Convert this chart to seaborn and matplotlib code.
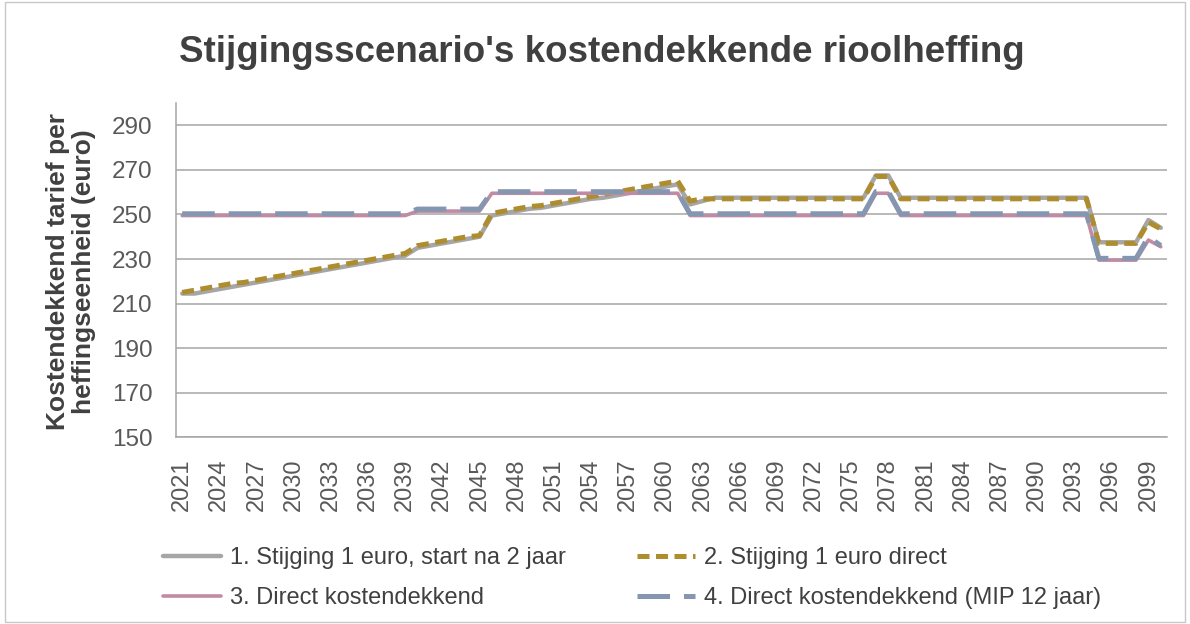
import matplotlib
matplotlib.use("Agg")
import matplotlib.pyplot as plt
import matplotlib.patches as patches
import seaborn as sns
import pandas as pd
import numpy as np

# categories
years = list(range(2021, 2101))

series_names = [
    "1. Stijging 1 euro, start na 2 jaar",
    "2. Stijging 1 euro direct",
    "3. Direct kostendekkend",
    "4. Direct kostendekkend (MIP 12 jaar)",
]

stijging_na_2 = [
    214.5, 214.5, 215.5, 216.5, 217.5, 218.5, 219.5, 220.5, 221.5, 222.5,
    223.5, 224.5, 225.5, 226.5, 227.5, 228.5, 229.5, 230.5, 231.5, 235,
    236, 237, 238, 239, 240, 249.5, 250.5, 251.5, 252.5, 253,
    254, 255, 256, 257, 257.5, 258.5, 259.5, 260.5, 261.5, 262.5,
    263.5, 254.5, 256, 257.5, 257.5, 257.5, 257.5, 257.5, 257.5, 257.5,
    257.5, 257.5, 257.5, 257.5, 257.5, 257.5, 267.5, 267.5, 257.5, 257.5,
    257.5, 257.5, 257.5, 257.5, 257.5, 257.5, 257.5, 257.5, 257.5, 257.5,
    257.5, 257.5, 257.5, 257.5, 237.5, 237.5, 237.5, 237.5, 247.5, 244,
]

stijging_direct = [
    215, 216, 217, 218, 219, 219.5, 220.5, 221.5, 222.5, 223.5,
    224.5, 225.5, 226.5, 227.5, 228.5, 229.5, 230.5, 231.5, 232.5, 236,
    237, 238, 239, 240, 240.5, 250.5, 251.5, 252.5, 253.5, 254,
    255, 256, 257, 258, 259, 260, 261, 262, 263, 264,
    265, 256, 257, 257, 257, 257, 257, 257, 257, 257,
    257, 257, 257, 257, 257, 257, 267, 267, 257, 257,
    257, 257, 257, 257, 257, 257, 257, 257, 257, 257,
    257, 257, 257, 257, 237, 237, 237, 237, 246.5, 243.5,
]

direct_kd = [
    249.5, 249.5, 249.5, 249.5, 249.5, 249.5, 249.5, 249.5, 249.5, 249.5,
    249.5, 249.5, 249.5, 249.5, 249.5, 249.5, 249.5, 249.5, 249.5, 251.5,
    251.5, 251.5, 251.5, 251.5, 251.5, 259.5, 259.5, 259.5, 259.5, 259.5,
    259.5, 259.5, 259.5, 259.5, 259.5, 259.5, 259.5, 259.5, 259.5, 259.5,
    259.5, 249.5, 249.5, 249.5, 249.5, 249.5, 249.5, 249.5, 249.5, 249.5,
    249.5, 249.5, 249.5, 249.5, 249.5, 249.5, 259.5, 259.5, 249.5, 249.5,
    249.5, 249.5, 249.5, 249.5, 249.5, 249.5, 249.5, 249.5, 249.5, 249.5,
    249.5, 249.5, 249.5, 249.5, 229.5, 229.5, 229.5, 229.5, 238.5, 235.5,
]

direct_kd_mip = [
    250.3, 250.3, 250.3, 250.3, 250.3, 250.3, 250.3, 250.3, 250.3, 250.3,
    250.3, 250.3, 250.3, 250.3, 250.3, 250.3, 250.3, 250.3, 250.3, 252.4,
    252.4, 252.4, 252.4, 252.4, 252.4, 260.2, 260.2, 260.2, 260.2, 260.2,
    260.2, 260.2, 260.2, 260.2, 260.2, 260.2, 260.2, 260.2, 260.2, 260.2,
    260.2, 250.3, 250.3, 250.3, 250.3, 250.3, 250.3, 250.3, 250.3, 250.3,
    250.3, 250.3, 250.3, 250.3, 250.3, 250.3, 260.3, 260.3, 250.3, 250.3,
    250.3, 250.3, 250.3, 250.3, 250.3, 250.3, 250.3, 250.3, 250.3, 250.3,
    250.3, 250.3, 250.3, 250.3, 230.3, 230.3, 230.3, 230.3, 240, 236,
]

df = pd.DataFrame({
    "jaar": years,
    series_names[0]: stijging_na_2,
    series_names[1]: stijging_direct,
    series_names[2]: direct_kd,
    series_names[3]: direct_kd_mip,
})

colors = ["#A6A6A6", "#AE8D2E", "#C28BA5", "#8496B0"]
widths = [3.2, 3.6, 2.6, 3.6]
styles = ["-", (0, (2.4, 1.3)), "-", (0, (6.5, 2.8))]

sns.set_style("white")
plt.rcParams['font.family'] = ['Liberation Sans', 'DejaVu Sans']
text_c = "#404040"

fig = plt.figure(figsize=(11.9, 6.24), dpi=100)
ax = fig.add_axes([176 / 1190, 1 - 437.3 / 624, (1167 - 176) / 1190, (437.3 - 103) / 624])

for i, name in enumerate(series_names):
    sns.lineplot(data=df, x="jaar", y=name, ax=ax, color=colors[i], lw=widths[i],
                 linestyle=styles[i], label=name, zorder=3 + i)
    ax.lines[-1].set_dash_capstyle("butt")

ax.set_xlim(2020.5, 2100.5)
ax.set_ylim(150, 300)
ax.set_yticks(range(150, 300, 20))
ax.set_xticks(years[::3])
ax.set_xticklabels([str(y) for y in years[::3]], rotation=90)
ax.set_xticks(np.arange(2020.5, 2101, 1), minor=True)
ax.tick_params(axis="x", which="major", length=0, pad=15, labelsize=17, labelcolor="#595959")
ax.tick_params(axis="x", which="minor", length=6, width=1, color="#A6A6A6", direction="out")
ax.tick_params(axis="y", length=6, width=1, color="#A6A6A6", direction="out", pad=11,
               labelsize=17.5, labelcolor="#595959")
ax.grid(axis="y", color="#A6A6A6", lw=1.1)
ax.set_axisbelow(True)
for s in ["top", "right"]:
    ax.spines[s].set_visible(False)
for s in ["left", "bottom"]:
    ax.spines[s].set_color("#A6A6A6")
    ax.spines[s].set_linewidth(1.1)
ax.set_xlabel("")
ax.set_ylabel("")

fig.text(71 / 1190, 1 - 272 / 624, "Kostendekkend tarief per\nheffingseenheid (euro)",
         rotation=90, ha="center", va="center", fontsize=19, fontweight="bold",
         color=text_c, linespacing=1.1)
fig.text(602 / 1190, 1 - 52 / 624, "Stijgingsscenario's kostendekkende rioolheffing",
         ha="center", va="center", fontsize=26.5, fontweight="bold", color=text_c)

handles, labels = ax.get_legend_handles_labels()
ax.get_legend().remove()
order = [0, 2, 1, 3]
leg = fig.legend([handles[k] for k in order], [labels[k] for k in order],
                 loc="center", bbox_to_anchor=(632 / 1190, 1 - 578 / 624), ncol=2,
                 frameon=False, fontsize=17, handlelength=2.45, handletextpad=0.4,
                 columnspacing=3.0, labelspacing=0.75)
for t in leg.get_texts():
    t.set_color(text_c)

fig.add_artist(patches.Rectangle((0.004, 0.004), 0.992, 0.992, transform=fig.transFigure,
                                 fill=False, edgecolor="#C8C8C8", lw=1))

fig.savefig("out.png", dpi=100)
